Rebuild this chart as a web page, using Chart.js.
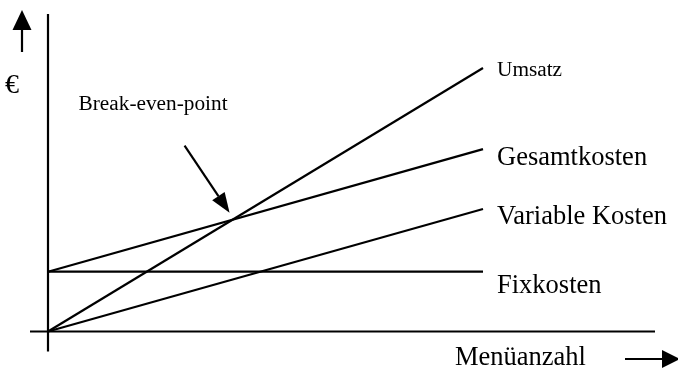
<!DOCTYPE html>
<html>
<head>
<meta charset="utf-8">
<script src="https://cdn.jsdelivr.net/npm/chart.js@4/dist/chart.umd.min.js"></script>
<style>
  html, body { margin: 0; padding: 0; background: #fff; }
  #wrap { width: 678px; height: 370px; position: relative; }
</style>
</head>
<body>
<div id="wrap"><canvas id="chart"></canvas></div>
<script>
// data (x = Menüanzahl, y = Euro)
const menuCount = [0, 10];
const umsatz = [0, 100];
const gesamtkosten = [22.7, 69.2];
const variableKosten = [0, 46.5];
const fixkosten = [22.7, 22.7];

const seriesNames = ['Umsatz', 'Gesamtkosten', 'Variable Kosten', 'Fixkosten'];
const xTitle = 'Menüanzahl';
const yTitle = '€';
const markerText = 'Break-even-point';

const serif = '"Liberation Serif", "Times New Roman", serif';

function pts(ys) {
    return menuCount.map((x, i) => ({ x: x, y: ys[i] }));
}

// axes, arrows and text labels
const decor = {
    id: 'decor',
    afterDatasetsDraw(chart) {
        const ctx = chart.ctx;
        const xs = chart.scales.x, ys = chart.scales.y;
        const ox = xs.getPixelForValue(0), oy = ys.getPixelForValue(0);

        ctx.save();
        ctx.strokeStyle = '#000';
        ctx.fillStyle = '#000';
        ctx.lineWidth = 2.2;

        // y axis + x axis
        ctx.beginPath();
        ctx.moveTo(ox, 14); ctx.lineTo(ox, oy + 20);
        ctx.moveTo(ox - 18, oy); ctx.lineTo(655, oy);
        ctx.stroke();

        // up arrow
        ctx.beginPath();
        ctx.moveTo(22, 52); ctx.lineTo(22, 28);
        ctx.stroke();
        ctx.beginPath();
        ctx.moveTo(22, 10); ctx.lineTo(31.5, 30); ctx.lineTo(12.5, 30);
        ctx.closePath(); ctx.fill();

        // right arrow
        ctx.beginPath();
        ctx.moveTo(625, 359); ctx.lineTo(664, 359);
        ctx.stroke();
        ctx.beginPath();
        ctx.moveTo(680, 359); ctx.lineTo(662, 350); ctx.lineTo(662, 368);
        ctx.closePath(); ctx.fill();

        // axis texts
        ctx.textBaseline = 'alphabetic';
        ctx.textAlign = 'left';
        ctx.font = '28px ' + serif;
        ctx.fillText(yTitle, 5, 93);
        ctx.font = '26.5px ' + serif;
        ctx.fillText(xTitle, 455, 365);

        // series labels at the end of each line
        chart.data.datasets.forEach((ds, i) => {
            const meta = chart.getDatasetMeta(i);
            const last = meta.data[meta.data.length - 1];
            ctx.font = ds.labelSize + 'px ' + serif;
            ctx.fillText(ds.label, last.x + 14, last.y + ds.labelDy);
        });

        // break-even point: where Umsatz meets Gesamtkosten
        const su = (umsatz[1] - umsatz[0]) / (menuCount[1] - menuCount[0]);
        const sg = (gesamtkosten[1] - gesamtkosten[0]) / (menuCount[1] - menuCount[0]);
        const bx = (gesamtkosten[0] - umsatz[0]) / (su - sg);
        const by = umsatz[0] + su * bx;
        const px = xs.getPixelForValue(bx), py = ys.getPixelForValue(by);

        const tx = px - 3, ty = py - 7;      // arrow tip
        const sx = px - 48, sy = py - 74;    // arrow tail
        const ang = Math.atan2(ty - sy, tx - sx);
        const hl = 20, hw = 7.5;
        const bxp = tx - hl * Math.cos(ang), byp = ty - hl * Math.sin(ang);
        ctx.beginPath();
        ctx.moveTo(sx, sy); ctx.lineTo(bxp, byp);
        ctx.stroke();
        ctx.beginPath();
        ctx.moveTo(tx, ty);
        ctx.lineTo(bxp + hw * Math.sin(ang), byp - hw * Math.cos(ang));
        ctx.lineTo(bxp - hw * Math.sin(ang), byp + hw * Math.cos(ang));
        ctx.closePath(); ctx.fill();

        ctx.font = '21.3px ' + serif;
        ctx.fillText(markerText, sx - 106, sy - 36);
        ctx.restore();
    }
};

const chart = document.querySelector('#chart').getContext('2d');

new Chart(chart, {
    type: 'scatter',
    data: {
        datasets: [
            { label: seriesNames[0], data: pts(umsatz), labelSize: 21.3, labelDy: 8 },
            { label: seriesNames[1], data: pts(gesamtkosten), labelSize: 26.5, labelDy: 16 },
            { label: seriesNames[2], data: pts(variableKosten), labelSize: 26.5, labelDy: 15 },
            { label: seriesNames[3], data: pts(fixkosten), labelSize: 26.5, labelDy: 21 }
        ].map(ds => Object.assign(ds, {
            showLine: true,
            borderColor: '#000',
            borderWidth: 2.2,
            pointRadius: 0,
            clip: false
        }))
    },
    options: {
        responsive: true,
        maintainAspectRatio: false,
        animation: false,
        layout: { padding: { left: 48, right: 195, top: 68, bottom: 38.5 } },
        scales: {
            x: { type: 'linear', min: 0, max: 10, display: false },
            y: { type: 'linear', min: 0, max: 100, display: false }
        },
        plugins: {
            legend: { display: false },
            tooltip: { enabled: false }
        }
    },
    plugins: [decor]
});
</script>
</body>
</html>
